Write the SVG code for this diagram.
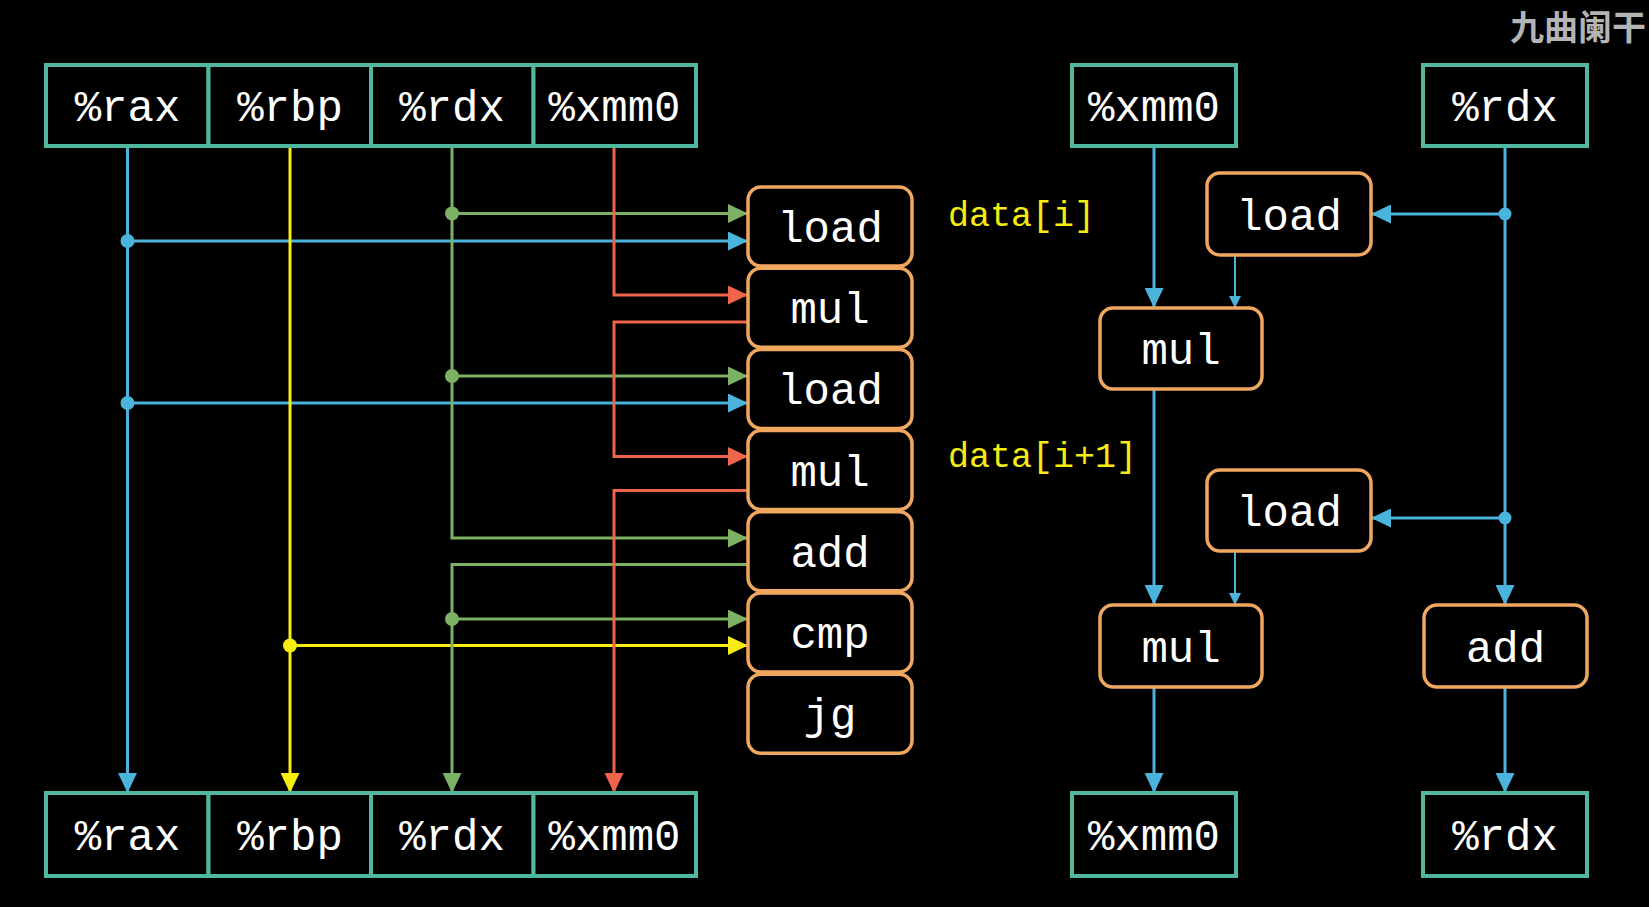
<svg xmlns="http://www.w3.org/2000/svg" width="1649" height="907" viewBox="0 0 1649 907">
  <style>
    .bg { fill: #000000; }
    .reg { fill: #000000; stroke: #50b8a0; stroke-width: 4; }
    .op { fill: #000000; stroke: #f0a860; stroke-width: 3.5; }
    .t { font-family: "Liberation Mono", "DejaVu Sans Mono", monospace; font-size: 44px; fill: #ffffff; text-anchor: middle; }
    .lbl { font-family: "Liberation Mono", "DejaVu Sans Mono", monospace; font-size: 35px; fill: #f5ec10; }
    .wm { font-family: "Noto Sans CJK SC", "Noto Sans", sans-serif; font-size: 34px; font-weight: bold; fill: #b4b4b4; text-anchor: end; }
    .w { fill: none; stroke-width: 3; stroke-linejoin: miter; }
    .thin { fill: none; stroke-width: 2; }
    .blue { stroke: #4ab4dc; }
    .yellow { stroke: #f8ec10; }
    .green { stroke: #7db264; }
    .red { stroke: #f0644b; }
    .dblue { fill: #4ab4dc; }
    .dyellow { fill: #f8ec10; }
    .dgreen { fill: #7db264; }
  </style>
  <defs>
    <marker id="ah-blue" markerUnits="userSpaceOnUse" viewBox="0 0 20 19" refX="20" refY="9.5" markerWidth="20" markerHeight="19" orient="auto">
      <path d="M0,0 L20,9.5 L0,19 z" fill="#4ab4dc"/>
    </marker>
    <marker id="ah-blue-s" markerUnits="userSpaceOnUse" viewBox="0 0 12 12" refX="12" refY="6" markerWidth="12" markerHeight="12" orient="auto">
      <path d="M0,0 L12,6 L0,12 z" fill="#4ab4dc"/>
    </marker>
    <marker id="ah-yellow" markerUnits="userSpaceOnUse" viewBox="0 0 20 19" refX="20" refY="9.5" markerWidth="20" markerHeight="19" orient="auto">
      <path d="M0,0 L20,9.5 L0,19 z" fill="#f8ec10"/>
    </marker>
    <marker id="ah-green" markerUnits="userSpaceOnUse" viewBox="0 0 20 19" refX="20" refY="9.5" markerWidth="20" markerHeight="19" orient="auto">
      <path d="M0,0 L20,9.5 L0,19 z" fill="#7db264"/>
    </marker>
    <marker id="ah-red" markerUnits="userSpaceOnUse" viewBox="0 0 20 19" refX="20" refY="9.5" markerWidth="20" markerHeight="19" orient="auto">
      <path d="M0,0 L20,9.5 L0,19 z" fill="#f0644b"/>
    </marker>
  </defs>

  <rect class="bg" x="0" y="0" width="1649" height="907"/>

  <!-- watermark -->
  <text class="wm" x="1646" y="40">九曲阑干</text>

  <!-- connectors (drawn first so boxes sit on top) -->
  <g id="connectors">
    <!-- left: %rax -->
    <path class="w blue" d="M127.5,146 V793" marker-end="url(#ah-blue)"/>
    <path class="w blue" d="M127.5,241 H748" marker-end="url(#ah-blue)"/>
    <path class="w blue" d="M127.5,403 H748" marker-end="url(#ah-blue)"/>
    <circle class="dblue" cx="127.5" cy="241" r="7"/>
    <circle class="dblue" cx="127.5" cy="403" r="7"/>

    <!-- left: %rbp -->
    <path class="w yellow" d="M290,146 V793" marker-end="url(#ah-yellow)"/>
    <path class="w yellow" d="M290,645.5 H748" marker-end="url(#ah-yellow)"/>
    <circle class="dyellow" cx="290" cy="645.5" r="7"/>

    <!-- left: %rdx -->
    <path class="w green" d="M452,146 V538 H748" marker-end="url(#ah-green)"/>
    <path class="w green" d="M452,213.5 H748" marker-end="url(#ah-green)"/>
    <path class="w green" d="M452,376 H748" marker-end="url(#ah-green)"/>
    <path class="w green" d="M748,564.5 H452 V793" marker-end="url(#ah-green)"/>
    <path class="w green" d="M452,619 H748" marker-end="url(#ah-green)"/>
    <circle class="dgreen" cx="452" cy="213.5" r="7"/>
    <circle class="dgreen" cx="452" cy="376" r="7"/>
    <circle class="dgreen" cx="452" cy="619" r="7"/>

    <!-- left: %xmm0 -->
    <path class="w red" d="M614,146 V295 H748" marker-end="url(#ah-red)"/>
    <path class="w red" d="M748,322 H614 V456.5 H748" marker-end="url(#ah-red)"/>
    <path class="w red" d="M748,490.5 H614 V793" marker-end="url(#ah-red)"/>

    <!-- right: data-flow graph -->
    <path class="w blue" d="M1154,146 V308" marker-end="url(#ah-blue)"/>
    <path class="w blue" d="M1154,389 V605" marker-end="url(#ah-blue)"/>
    <path class="w blue" d="M1154,687 V793" marker-end="url(#ah-blue)"/>
    <path class="w blue" d="M1505,146 V605" marker-end="url(#ah-blue)"/>
    <path class="w blue" d="M1505,214 H1371" marker-end="url(#ah-blue)"/>
    <path class="w blue" d="M1505,518 H1371" marker-end="url(#ah-blue)"/>
    <path class="w blue" d="M1505,687 V793" marker-end="url(#ah-blue)"/>
    <path class="thin blue" d="M1235,255 V308" marker-end="url(#ah-blue-s)"/>
    <path class="thin blue" d="M1235,551 V605" marker-end="url(#ah-blue-s)"/>
    <circle class="dblue" cx="1505" cy="214" r="6.5"/>
    <circle class="dblue" cx="1505" cy="518" r="6.5"/>
  </g>

  <!-- left: register file, top row -->
  <g id="top-rax"><rect class="reg" x="46" y="65" width="162.5" height="81"/><text class="t" x="127.5" y="121">%rax</text></g>
  <g id="top-rbp"><rect class="reg" x="208.5" y="65" width="162.5" height="81"/><text class="t" x="290" y="121">%rbp</text></g>
  <g id="top-rdx"><rect class="reg" x="371" y="65" width="162.5" height="81"/><text class="t" x="452" y="121">%rdx</text></g>
  <g id="top-xmm0"><rect class="reg" x="533.5" y="65" width="162.5" height="81"/><text class="t" x="614.5" y="121">%xmm0</text></g>

  <!-- left: register file, bottom row -->
  <g id="bot-rax"><rect class="reg" x="46" y="793" width="162.5" height="83"/><text class="t" x="127.5" y="850">%rax</text></g>
  <g id="bot-rbp"><rect class="reg" x="208.5" y="793" width="162.5" height="83"/><text class="t" x="290" y="850">%rbp</text></g>
  <g id="bot-rdx"><rect class="reg" x="371" y="793" width="162.5" height="83"/><text class="t" x="452" y="850">%rdx</text></g>
  <g id="bot-xmm0"><rect class="reg" x="533.5" y="793" width="162.5" height="83"/><text class="t" x="614.5" y="850">%xmm0</text></g>

  <!-- left: instruction column -->
  <g id="i-load1"><rect class="op" x="748" y="187" width="164" height="79" rx="13"/><text class="t" x="830" y="242">load</text></g>
  <g id="i-mul1"><rect class="op" x="748" y="268.2" width="164" height="79" rx="13"/><text class="t" x="830" y="323.2">mul</text></g>
  <g id="i-load2"><rect class="op" x="748" y="349.4" width="164" height="79" rx="13"/><text class="t" x="830" y="404.4">load</text></g>
  <g id="i-mul2"><rect class="op" x="748" y="430.6" width="164" height="79" rx="13"/><text class="t" x="830" y="485.6">mul</text></g>
  <g id="i-add"><rect class="op" x="748" y="511.8" width="164" height="79" rx="13"/><text class="t" x="830" y="566.8">add</text></g>
  <g id="i-cmp"><rect class="op" x="748" y="593" width="164" height="79" rx="13"/><text class="t" x="830" y="648">cmp</text></g>
  <g id="i-jg"><rect class="op" x="748" y="674.2" width="164" height="79" rx="13"/><text class="t" x="830" y="729.2">jg</text></g>

  <!-- labels -->
  <g id="lbl-i"><text class="lbl" x="948" y="226">data[i]</text></g>
  <g id="lbl-i1"><text class="lbl" x="948" y="466.5">data[i+1]</text></g>

  <!-- right: data-flow graph nodes -->
  <g id="r-xmm0-in"><rect class="reg" x="1072" y="65" width="164" height="81"/><text class="t" x="1154" y="121">%xmm0</text></g>
  <g id="r-rdx-in"><rect class="reg" x="1423" y="65" width="164" height="81"/><text class="t" x="1505" y="121">%rdx</text></g>
  <g id="r-load1"><rect class="op" x="1207" y="173" width="164" height="82" rx="13"/><text class="t" x="1289" y="229.5">load</text></g>
  <g id="r-mul1"><rect class="op" x="1100" y="308" width="162" height="81" rx="13"/><text class="t" x="1181" y="364">mul</text></g>
  <g id="r-load2"><rect class="op" x="1207" y="470" width="164" height="81" rx="13"/><text class="t" x="1289" y="526">load</text></g>
  <g id="r-mul2"><rect class="op" x="1100" y="605" width="162" height="82" rx="13"/><text class="t" x="1181" y="661.5">mul</text></g>
  <g id="r-add"><rect class="op" x="1424" y="605" width="163" height="82" rx="13"/><text class="t" x="1505.5" y="661.5">add</text></g>
  <g id="r-xmm0-out"><rect class="reg" x="1072" y="793" width="164" height="83"/><text class="t" x="1154" y="850">%xmm0</text></g>
  <g id="r-rdx-out"><rect class="reg" x="1423" y="793" width="164" height="83"/><text class="t" x="1505" y="850">%rdx</text></g>
</svg>
